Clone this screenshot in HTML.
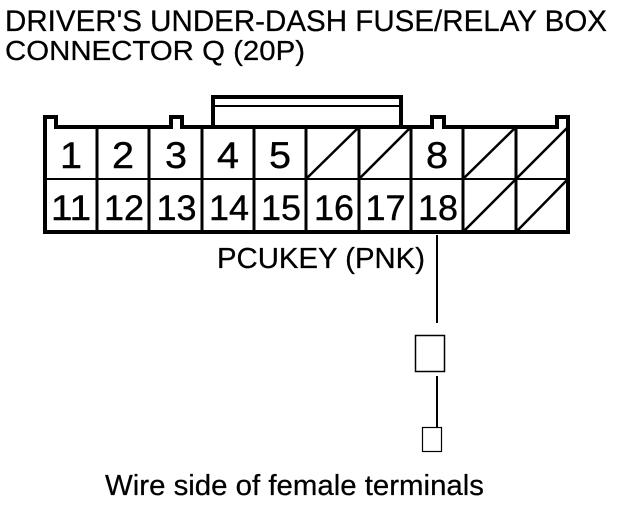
<!DOCTYPE html>
<html><head><meta charset="utf-8"><style>
html,body{margin:0;padding:0;background:#fff;width:624px;height:506px;overflow:hidden}
svg{display:block}
text{font-family:"Liberation Sans",sans-serif;fill:#000;stroke:#000;stroke-width:.25px}
.n{font-size:37px;text-anchor:middle;stroke-width:.4px}
.m{font-size:35px;text-anchor:middle;stroke-width:.4px}
</style></head><body>
<svg width="624" height="506" viewBox="0 0 624 506" xmlns="http://www.w3.org/2000/svg">
<text x="5" y="31" font-size="30" textLength="602" lengthAdjust="spacingAndGlyphs">DRIVER'S UNDER-DASH FUSE/RELAY BOX</text>
<text x="5" y="60" font-size="28" textLength="300" lengthAdjust="spacingAndGlyphs">CONNECTOR Q (20P)</text>

<path d="M213 127V97H401V127" fill="none" stroke="#000" stroke-width="4"/>
<path d="M213 106H401" stroke="#000" stroke-width="2"/>
<path d="M56 127V117H45V232H568V117H557V127H444V117H432V127H182V117H171V127Z" fill="none" stroke="#000" stroke-width="4"/>
<path d="M45 179H568" stroke="#000" stroke-width="2"/>
<path d="M97 127V232M149 127V232M202 127V232M254 127V232M306 127V232M359 127V232M411 127V232M463 127V232M516 127V232" stroke="#000" stroke-width="3"/>
<path d="M306 179L359 127M359 179L411 127M463 179L516 127M516 179L568 127M463 232L516 179M516 232L568 179" stroke="#000" stroke-width="2.500"/>

<text class="n" x="71" y="168" textLength="22" lengthAdjust="spacingAndGlyphs">1</text>
<text class="n" x="123" y="168" textLength="22" lengthAdjust="spacingAndGlyphs">2</text>
<text class="n" x="176" y="168" textLength="22" lengthAdjust="spacingAndGlyphs">3</text>
<text class="n" x="228" y="168" textLength="22" lengthAdjust="spacingAndGlyphs">4</text>
<text class="n" x="280" y="168" textLength="22" lengthAdjust="spacingAndGlyphs">5</text>
<text class="n" x="437" y="168" textLength="22" lengthAdjust="spacingAndGlyphs">8</text>
<text class="m" x="71" y="220" textLength="40" lengthAdjust="spacingAndGlyphs">11</text>
<text class="m" x="124" y="220" textLength="40" lengthAdjust="spacingAndGlyphs">12</text>
<text class="m" x="176.500" y="220" textLength="40" lengthAdjust="spacingAndGlyphs">13</text>
<text class="m" x="229" y="220" textLength="40" lengthAdjust="spacingAndGlyphs">14</text>
<text class="m" x="281" y="220" textLength="40" lengthAdjust="spacingAndGlyphs">15</text>
<text class="m" x="334" y="220" textLength="40" lengthAdjust="spacingAndGlyphs">16</text>
<text class="m" x="385.500" y="220" textLength="40" lengthAdjust="spacingAndGlyphs">17</text>
<text class="m" x="438" y="220" textLength="40" lengthAdjust="spacingAndGlyphs">18</text>

<text x="217" y="268" font-size="29" textLength="208" lengthAdjust="spacingAndGlyphs">PCUKEY (PNK)</text>
<path d="M437 235V323M437 376V427" stroke="#000" stroke-width="2"/>
<rect x="415.500" y="335.500" width="29" height="36" fill="#fff" stroke="#000" stroke-width="1.500"/>
<rect x="422.500" y="427.500" width="19" height="24" fill="#fff" stroke="#000" stroke-width="1.200"/>
<text x="105" y="495" font-size="29" textLength="379" lengthAdjust="spacingAndGlyphs">Wire side of female terminals</text>
</svg>
</body></html>
